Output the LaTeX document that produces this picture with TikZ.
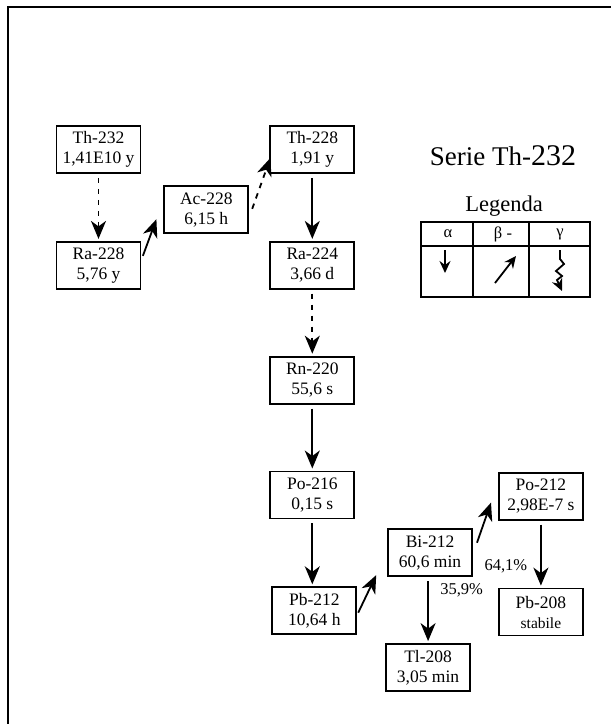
\documentclass[tikz,border=0pt]{standalone}
\usepackage{fontspec}
\setmainfont{Liberation Serif}
\usetikzlibrary{arrows.meta, positioning, calc}

\begin{document}
\begin{tikzpicture}[
      x=1pt, y=1pt,
      nuclide/.style={draw, line width=1.8pt, minimum width=84pt,
        minimum height=47pt, align=center, inner sep=2pt,
        font=\fontsize{17.5}{20}\selectfont},
      decay/.style={-{Stealth[length=18pt, width=15pt, inset=5.5pt]},
        line width=1.8pt},
      slowdecay/.style={decay, dash pattern=on 5.5pt off 5.5pt},
      straight/.style={shorten <=4pt, shorten >=2pt},
      pct/.style={font=\fontsize{16.5}{18}\selectfont},
      legtip/.style={-{Stealth[length=12pt, width=11pt, inset=4pt]},
        line width=1.8pt}
    ]
      \useasboundingbox (0,0) rectangle (611,-724);
      \draw[line width=2pt] (8,-724) -- (8,-7) -- (611,-7);

      \node[nuclide] (th232) at (98.5,-149.5) {Th-232\\1,41E10 y};
      \node[nuclide, below=67pt of th232] (ra228) {Ra-228\\5,76 y};
      \node[nuclide, right=22pt of ra228, yshift=55.5pt] (ac228)
        {Ac-228\\6,15 h};
      \node[nuclide, right=128pt of th232] (th228) {Th-228\\1,91 y};
      \node[nuclide, below=67pt of th228] (ra224) {Ra-224\\3,66 d};
      \node[nuclide, below=66pt of ra224] (rn220) {Rn-220\\55,6 s};
      \node[nuclide, below=66pt of rn220] (po216) {Po-216\\0,15 s};
      \node[nuclide, below=67pt of po216, xshift=2pt] (pb212)
        {Pb-212\\10,64 h};
      \node[nuclide, right=30pt of pb212, yshift=58pt] (bi212)
        {Bi-212\\60,6 min};
      \node[nuclide, below=66pt of bi212, xshift=-2pt] (tl208)
        {Tl-208\\3,05 min};
      \node[nuclide, right=25pt of bi212, yshift=56.5pt] (po212)
        {Po-212\\2,98E-7 s};
      \node[nuclide, below=67pt of po212] (pb208)
        {Pb-208\\{\fontsize{15.5}{16}\selectfont stabile}};

      \draw[slowdecay, straight] (th232) -- (ra228);
      \draw[decay] ([shift={(1.5pt,9.5pt)}]ra228.east) --
        ([shift={(-7pt,15pt)}]ac228.south west);
      \draw[slowdecay] ([shift={(3pt,1pt)}]ac228.east) --
        ([shift={(1pt,16pt)}]th228.south west);
      \draw[decay, straight] (th228) -- (ra224);
      \draw[slowdecay, straight] (ra224) -- (rn220);
      \draw[decay, straight] (rn220) -- (po216);
      \draw[decay, straight] (po216.south -| th228) -- (pb212.north -| th228);
      \draw[decay] ([shift={(1pt,-2pt)}]pb212.east) --
        ([shift={(-11pt,2pt)}]bi212.south west);
      \draw[decay] ([shift={(4pt,10pt)}]bi212.east) --
        ([shift={(-7pt,18pt)}]po212.south west);
      \draw[decay, straight] (bi212.south -| tl208) --
        node[pct, pos=0.2, right=8pt] {35,9\%} (tl208);
      \draw[decay, straight] (po212) -- (pb208);
      \node[pct, right=8pt of bi212, yshift=-13.5pt] (branch) {64,1\%};

      \node[anchor=base] (title) at (503,-165)
        {\fontsize{27}{30}\selectfont Serie Th-\fontsize{30}{30}\selectfont 232};
      \node[anchor=base, font=\fontsize{22.5}{24}\selectfont] (legend)
        at (504,-211) {Legenda};

      \draw[line width=1.8pt] (421,-222) rectangle (590,-297);
      \draw[line width=1.8pt] (421,-246) -- (590,-246);
      \draw[line width=1.8pt] (473,-222) -- (473,-297);
      \draw[line width=1.8pt] (529,-222) -- (529,-297);
      \node[pct] (alpha) at (448,-234) {α};
      \node[pct] (beta) at (503,-234) {β -};
      \node[pct] (gamma) at (560,-234) {γ};

      \draw[legtip] (445,-250) -- (445,-273);
      \draw[legtip] (495,-283) -- (516,-256);
      \draw[legtip, line join=miter] (560,-250) -- (560,-259) -- (564,-264)
        -- (556,-271) -- (562,-276) -- (557,-280) -- (562,-291);
    \end{tikzpicture}
\end{document}
